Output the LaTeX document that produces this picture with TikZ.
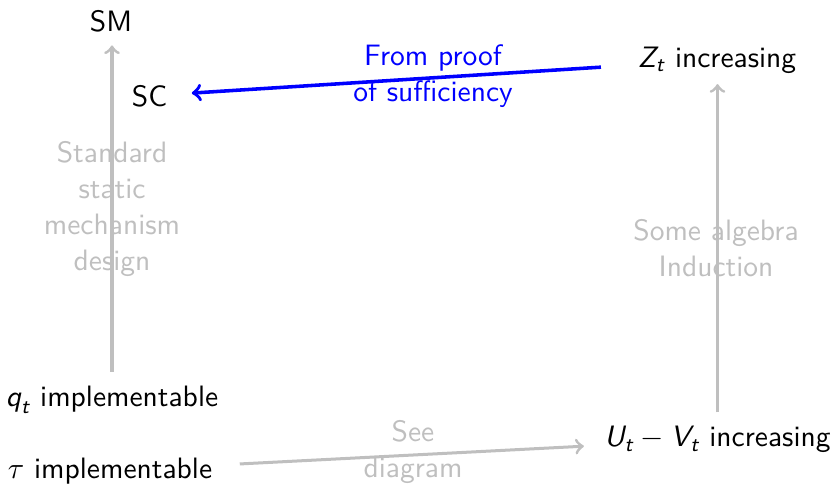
\documentclass[tikz,border=0pt]{standalone}
\usepackage{amsmath}
\usepackage{fontspec}
\newcommand\sm[1]{\textit{#1}}
\begin{document}
\begin{tikzpicture}[x=0.366pt,y=-0.366pt,
  every node/.style={font=\sffamily\fontsize{10.8}{13.2}\selectfont},
  lab/.style={align=center, text=black!25},
  blab/.style={align=center, text=blue},
  garrow/.style={->, draw=black!25, line width=1.1pt},
  barrow/.style={->, draw=blue, line width=1.3pt}]
\useasboundingbox (0,0) rectangle (832,485);
\node[anchor=base] (sm) at (111,31) {SM};
\node[anchor=base] (sc) at (149.5,106) {SC};
\node[anchor=base] (z) at (717,67) {$\sm{Z}_{\sm{t}}$ increasing};
\node[anchor=base] (q) at (112,406) {$\sm{q}_{\sm{t}}$ implementable};
\node[anchor=base] (tau) at (110,478) {$\tau$ implementable};
\node[anchor=base] (uv) at (717.5,446.5) {$\sm{U}_{\sm{t}}-\sm{V}_{\sm{t}}$ increasing};
% labels
\node[lab] (l1) at (112,209) {Standard\\static\\mechanism\\design};
\node[lab] (l2) at (716,248) {Some algebra\\Induction};
\node[lab] (l3) at (413,452) {See\\diagram};
\node[blab] (l4) at (433,76) {From proof\\of sufficiency};
% arrows
\draw[garrow, shorten <=1.5pt, shorten >=1.5pt] (q.north) -- (q.north |- sm.south);
\draw[garrow, shorten <=1.5pt, shorten >=0.5pt] (uv.north) -- (uv.north |- z.south);
\draw[garrow, shorten <=6.6pt, shorten >=4pt] (tau) -- (uv);
\draw[barrow, shorten <=10pt, shorten >=5.5pt] (z) -- (sc);
\end{tikzpicture}
\end{document}
